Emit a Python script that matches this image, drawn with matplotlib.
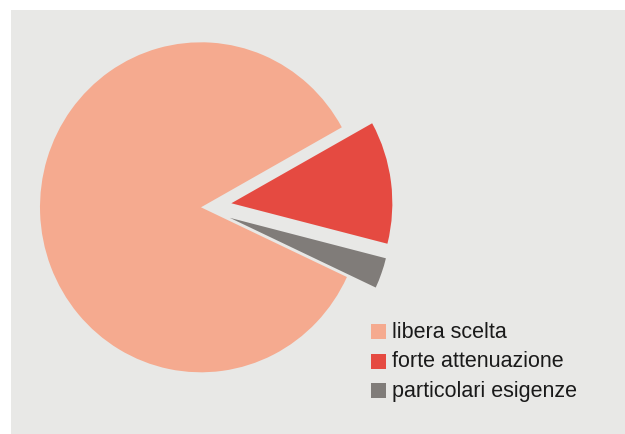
import matplotlib.pyplot as plt
from matplotlib.patches import Rectangle

labels = ['libera scelta', 'forte attenuazione', 'particolari esigenze']
values = [85, 12, 3]
colors = ['#f5aa8f', '#e54a41', '#807c79']
explode = [0, 0.19, 0.19]

W, H = 625, 435
fig = plt.figure(figsize=(W / 100, H / 100), dpi=100, facecolor='white')

# gray panel behind everything
fig.add_artist(Rectangle((11 / W, 0), 1 - 11 / W, 1 - 11 / H,
                         transform=fig.transFigure, facecolor='#e8e8e6',
                         edgecolor='none', zorder=0))

# pie is slightly squashed in the original: 161 px wide radius, 165 px tall
cx, cy, rx, ry = 201, H - 208.3, 161, 165
ax = fig.add_axes([(cx - rx) / W, (cy - ry) / H, 2 * rx / W, 2 * ry / H])
ax.set_facecolor('none')
wedges, _ = ax.pie(values, colors=colors, explode=explode, startangle=-25,
                   counterclock=False, radius=1,
                   wedgeprops=dict(linewidth=0))
for w in wedges:
    w.set_clip_on(False)
ax.set_xlim(-1, 1)
ax.set_ylim(-1, 1)
ax.set_aspect('auto')
ax.axis('off')

# legend drawn by hand
for i, (lab, col) in enumerate(zip(labels, colors)):
    yc = H - (332.5 + i * 29.5)
    fig.add_artist(Rectangle((371 / W, (yc - 7.5) / H), 15 / W, 15 / H,
                             transform=fig.transFigure, facecolor=col,
                             edgecolor='none'))
    fig.text(392 / W, yc / H, lab, fontsize=15.5, family='Liberation Sans',
             color='#1a1a1a', va='center', ha='left')

fig.savefig('out.png', dpi=100, facecolor='white')
